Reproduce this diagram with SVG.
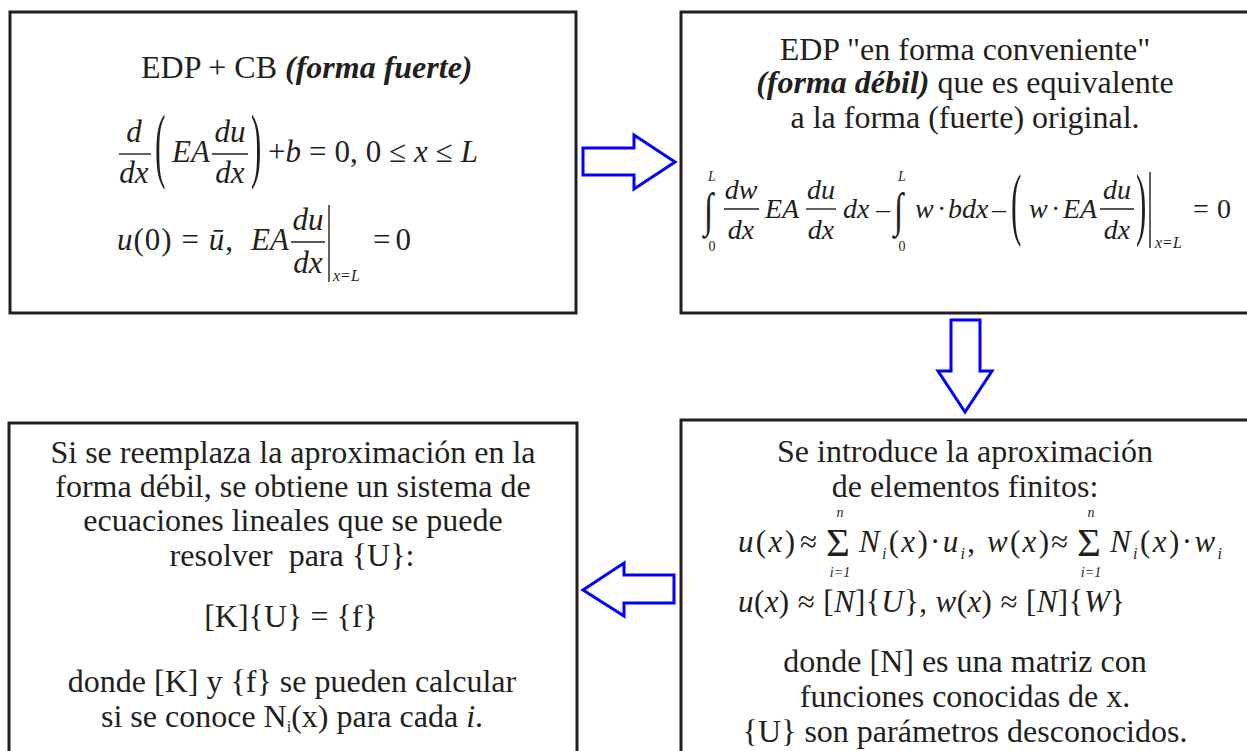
<svg xmlns="http://www.w3.org/2000/svg" width="1247" height="751" viewBox="0 0 1247 751">
<style>
.box{fill:#fff;stroke:#231f20;stroke-width:3}
.tx{font-family:"Liberation Serif","Times New Roman",serif;font-size:32px;fill:#231f20}
.c{text-anchor:middle}
.bi{font-weight:bold;font-style:italic}
.m{font-family:"Liberation Serif","Times New Roman",serif;font-size:31px;fill:#231f20}
.m2{font-size:28px}
.i{font-style:italic}
.sm{font-size:16px}
.lim{font-size:14px}
.big{font-size:41px}
.bar{stroke:#231f20;stroke-width:1.4}
.arr{fill:#fff;stroke:#0000ff;stroke-width:3;stroke-linejoin:miter}
</style>
<rect width="1247" height="751" fill="#fff"/>

<g id="strong-form">
<rect class="box" x="10" y="12" width="566" height="301"/>
<text class="tx" x="141" y="78">EDP + CB <tspan class="bi">(forma fuerte)</tspan></text>
<text class="m i c" x="134" y="142">d</text>
<line class="bar" x1="119" y1="154" x2="151" y2="154"/>
<text class="m i c" x="134" y="183">dx</text>
<text class="m" transform="translate(155,172) scale(1,2.66)">(</text>
<text class="m i" x="172" y="162">EA</text>
<text class="m i c" x="230" y="142">du</text>
<line class="bar" x1="212" y1="154" x2="248" y2="154"/>
<text class="m i c" x="230" y="183">dx</text>
<text class="m" transform="translate(251,172) scale(1,2.66)">)</text>
<text class="m" x="268" y="162" textLength="210" lengthAdjust="spacing">+<tspan class="i">b</tspan> = 0, 0 ≤ <tspan class="i">x</tspan> ≤ <tspan class="i">L</tspan></text>
<text class="m" x="117" y="250" textLength="116" lengthAdjust="spacing"><tspan class="i">u</tspan>(0) = <tspan class="i">ū</tspan>,</text>
<text class="m i" x="251" y="250">EA</text>
<text class="m i c" x="308" y="230">du</text>
<line class="bar" x1="291" y1="242" x2="325" y2="242"/>
<text class="m i c" x="308" y="273">dx</text>
<line class="bar" x1="329" y1="205" x2="329" y2="282"/>
<text class="m i sm" x="333" y="281">x=L</text>
<text class="m" x="373" y="250" textLength="38" lengthAdjust="spacing">= 0</text>
</g>

<g id="weak-form">
<rect class="box" x="681" y="12" width="600" height="301"/>
<text class="tx c" x="965" y="60">EDP "en forma conveniente"</text>
<text class="tx c" x="965" y="93"><tspan class="bi">(forma débil)</tspan> que es equivalente</text>
<text class="tx c" x="965" y="128">a la forma (fuerte) original.</text>
<text class="m" x="704" y="226" transform="translate(0,-90) scale(1,1.4)" style="font-size:34px">∫</text>
<text class="m i lim c" x="712" y="181">L</text>
<text class="m lim c" x="712" y="251">0</text>
<text class="m m2 i c" x="741" y="199">dw</text>
<line class="bar" x1="724" y1="209" x2="759" y2="209"/>
<text class="m m2 i c" x="741" y="239">dx</text>
<text class="m m2 i" x="765" y="218">EA</text>
<text class="m m2 i c" x="821" y="199">du</text>
<line class="bar" x1="806" y1="209" x2="836" y2="209"/>
<text class="m m2 i c" x="821" y="239">dx</text>
<text class="m m2 i" x="843" y="218">dx</text>
<text class="m m2" x="876" y="218">–</text>
<text class="m" x="894" y="226" transform="translate(0,-90) scale(1,1.4)" style="font-size:34px">∫</text>
<text class="m i lim c" x="902" y="181">L</text>
<text class="m lim c" x="902" y="251">0</text>
<text class="m m2 i" x="915" y="218">w</text>
<text class="m m2" x="937" y="218">·</text>
<text class="m m2 i" x="948" y="218">bdx</text>
<text class="m m2" x="992" y="218">–</text>
<text class="m" transform="translate(1011,230) scale(1,2.6)">(</text>
<text class="m m2 i" x="1029" y="218">w</text>
<text class="m m2" x="1051" y="218">·</text>
<text class="m m2 i" x="1063" y="218">EA</text>
<text class="m m2 i c" x="1117" y="199">du</text>
<line class="bar" x1="1100" y1="209" x2="1134" y2="209"/>
<text class="m m2 i c" x="1117" y="239">dx</text>
<text class="m" transform="translate(1136,230) scale(1,2.6)">)</text>
<line class="bar" x1="1150" y1="172" x2="1150" y2="248"/>
<text class="m i sm" x="1155" y="248">x=L</text>
<text class="m m2" x="1193" y="218" textLength="38" lengthAdjust="spacing">= 0</text>
</g>

<g id="fe-approx">
<rect class="box" x="681" y="420" width="600" height="400"/>
<text class="tx c" x="965" y="462">Se introduce la aproximación</text>
<text class="tx c" x="965" y="497">de elementos finitos:</text>
<text class="m" x="738" y="552" textLength="57" lengthAdjust="spacing"><tspan class="i">u</tspan>(<tspan class="i">x</tspan>)</text>
<text class="m" x="800" y="552">≈</text>
<text class="m big" x="826" y="556">Σ</text>
<text class="m i lim c" x="840" y="517">n</text>
<text class="m i lim c" x="840" y="577">i=1</text>
<text class="m" x="859" y="552" textLength="116" lengthAdjust="spacing"><tspan class="i">N</tspan><tspan class="i sm" dy="7">i</tspan><tspan dy="-7">(</tspan><tspan class="i">x</tspan>)·<tspan class="i">u</tspan><tspan class="i sm" dy="7">i</tspan><tspan dy="-7">,</tspan></text>
<text class="m" x="987" y="552" textLength="62" lengthAdjust="spacing"><tspan class="i">w</tspan>(<tspan class="i">x</tspan>)</text>
<text class="m" x="1051" y="552">≈</text>
<text class="m big" x="1077" y="556">Σ</text>
<text class="m i lim c" x="1091" y="517">n</text>
<text class="m i lim c" x="1091" y="577">i=1</text>
<text class="m" x="1110" y="552" textLength="112" lengthAdjust="spacing"><tspan class="i">N</tspan><tspan class="i sm" dy="7">i</tspan><tspan dy="-7">(</tspan><tspan class="i">x</tspan>)·<tspan class="i">w</tspan><tspan class="i sm" dy="7">i</tspan></text>
<text class="m" x="738" y="612" textLength="387" lengthAdjust="spacing"><tspan class="i">u</tspan>(<tspan class="i">x</tspan>) ≈ [<tspan class="i">N</tspan>]{<tspan class="i">U</tspan>}, <tspan class="i">w</tspan>(<tspan class="i">x</tspan>) ≈ [<tspan class="i">N</tspan>]{<tspan class="i">W</tspan>}</text>
<text class="tx c" x="965" y="672">donde [N] es una matriz con</text>
<text class="tx c" x="965" y="707">funciones conocidas de x.</text>
<text class="tx c" x="965" y="742">{U} son parámetros desconocidos.</text>
</g>

<g id="linear-system">
<rect class="box" x="9" y="423" width="568" height="400"/>
<text class="tx c" x="293" y="463">Si se reemplaza la aproximación en la</text>
<text class="tx c" x="293" y="497">forma débil, se obtiene un sistema de</text>
<text class="tx c" x="293" y="531">ecuaciones lineales que se puede</text>
<text class="tx c" x="292" y="566" xml:space="preserve">resolver  para {U}:</text>
<text class="tx c" x="291" y="627">[K]{U} = {f}</text>
<text class="tx c" x="292" y="692">donde [K] y {f} se pueden calcular</text>
<text class="tx c" x="292" y="727">si se conoce N<tspan class="sm" dy="5">i</tspan><tspan dy="-5">(x) para cada </tspan><tspan class="i">i</tspan>.</text>
</g>

<g id="connectors">
<polygon class="arr" points="583,148 634,148 634,135 675,162 634,189 634,175 583,175"/>
<polygon class="arr" points="951,320 980,320 980,371 992,371 965,412 938,371 951,371"/>
<polygon class="arr" points="674,575 624,575 624,563 583,590 624,616 624,603 674,603"/>
</g>
</svg>
